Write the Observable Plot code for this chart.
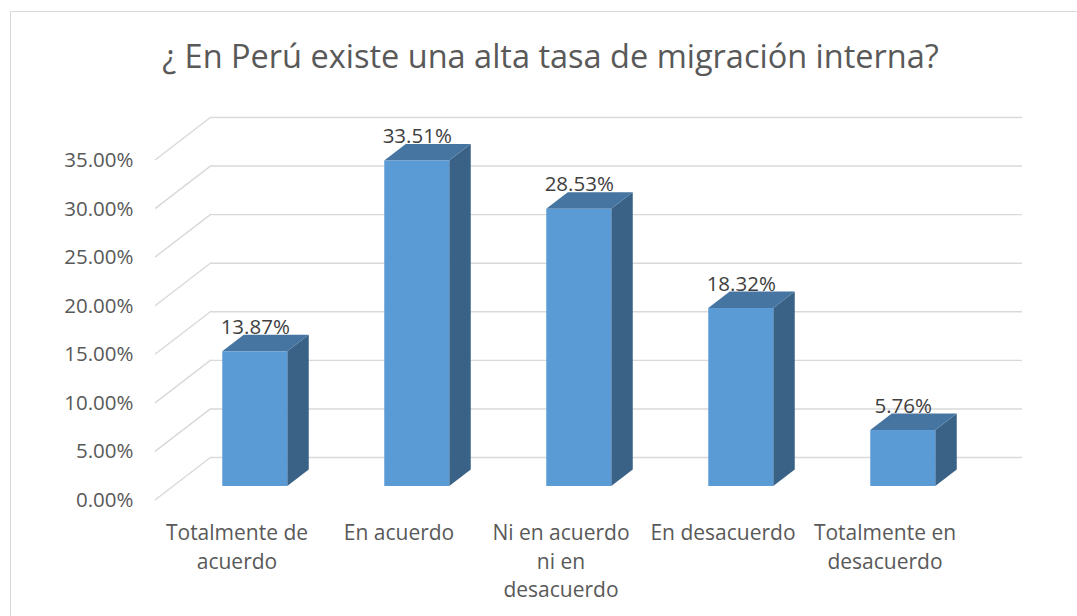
<!DOCTYPE html>
<html><head><meta charset="utf-8">
<script src="https://cdn.jsdelivr.net/npm/d3@7"></script>
<script src="https://cdn.jsdelivr.net/npm/@observablehq/plot@0.6"></script>
<style>
html,body{margin:0;padding:0;background:#fff;}
#wrap{position:relative;width:1077px;height:616px;overflow:hidden;}
#border{position:absolute;left:10px;top:11px;width:1200px;height:800px;border-left:1.5px solid #d9d9d9;border-top:1.5px solid #d9d9d9;}
#wrap svg{position:absolute;left:0;top:0;}
</style></head><body><div id="wrap"><div id="border"></div></div>
<script>
const title = "¿ En Perú existe una alta tasa de migración interna?";
const categories = ["Totalmente de acuerdo", "En acuerdo", "Ni en acuerdo ni en desacuerdo", "En desacuerdo", "Totalmente en desacuerdo"];
const categoryLabels = ["Totalmente de\nacuerdo", "En acuerdo", "Ni en acuerdo\nni en\ndesacuerdo", "En desacuerdo", "Totalmente en\ndesacuerdo"];
const values = [0.1387, 0.3351, 0.2853, 0.1832, 0.0576];
const yTicks = [0, 0.05, 0.10, 0.15, 0.20, 0.25, 0.30, 0.35];

const data = categories.map((c, i) => ({category: c, label: categoryLabels[i], value: values[i]}));

// oblique projection of the depth axis (pixels for full depth)
const DEPTH = [56, -43];
const BAR_FRONT = 0.326, BAR_BACK = 0.71;
const off = t => [DEPTH[0] * t, DEPTH[1] * t];
const GRID = "#d9d9d9";
const FRONT = "#5b9bd5", TOP = "#4675a2", SIDE = "#3a6287";
const pct = d3.format(".2%");

function sideWall(index, scales, values, dims) {
  const {y} = scales;
  const g = d3.create("svg:g");
  const x0 = dims.marginLeft;
  for (const v of yTicks) {
    g.append("line")
      .attr("x1", x0).attr("y1", y(v))
      .attr("x2", x0 + DEPTH[0]).attr("y2", y(v) + DEPTH[1])
      .attr("stroke", GRID).attr("stroke-width", 1.4);
  }
  return g.node();
}

function bars3d(index, scales, values, dims) {
  const {x, y} = scales;
  const bw = typeof x.bandwidth === "function" ? x.bandwidth() : x.bandwidth;
  const [fx, fy] = off(BAR_FRONT), [bx, by] = off(BAR_BACK);
  const ddx = bx - fx, ddy = by - fy;
  const g = d3.create("svg:g");
  for (const d of data) {
    const l = x(d.category) + fx, r = l + bw;
    const t = y(d.value) + fy, b = y(0) + fy;
    g.append("polygon").attr("fill", SIDE)
      .attr("points", [[r, t], [r + ddx, t + ddy], [r + ddx, b + ddy], [r, b]].join(" "));
    g.append("polygon").attr("fill", TOP)
      .attr("points", [[l, t], [r, t], [r + ddx, t + ddy], [l + ddx, t + ddy]].join(" "));
    g.append("rect").attr("fill", FRONT)
      .attr("x", l).attr("y", t).attr("width", bw).attr("height", b - t);
  }
  return g.node();
}

const chart = Plot.plot({
  width: 1077, height: 616,
  marginLeft: 155, marginRight: 111, marginTop: 160, marginBottom: 116,
  style: {background: "transparent", fontFamily: "'Open Sans', sans-serif", fontSize: "21px", color: "#595959", overflow: "visible"},
  x: {type: "band", domain: categories, paddingInner: 0.6, paddingOuter: 0.3, axis: null},
  y: {domain: [0, 0.35], axis: null},
  marks: [
    Plot.ruleY(yTicks, {dx: DEPTH[0], dy: DEPTH[1], stroke: GRID, strokeWidth: 1.4}),
    sideWall,
    bars3d,
    Plot.axisY(yTicks, {tickSize: 0, tickPadding: 22, tickFormat: pct, fontSize: 20.5, fill: "#595959", label: null}),
    Plot.text(data, {x: "category", y: "value", text: d => pct(d.value), dx: off(BAR_FRONT)[0], dy: -38.5, fill: "#404040", fontSize: 20.5}),
    Plot.text(data, {x: "category", text: "label", frameAnchor: "bottom", lineAnchor: "top", dy: 19.4, lineHeight: 1.36, fill: "#595959", fontSize: 21}),
    Plot.text([title], {frameAnchor: "top", lineAnchor: "middle", dx: -10.5, dy: -103, fill: "#595959", fontSize: 32.5})
  ]
});
document.getElementById("wrap").appendChild(chart);
</script>
</body></html>
